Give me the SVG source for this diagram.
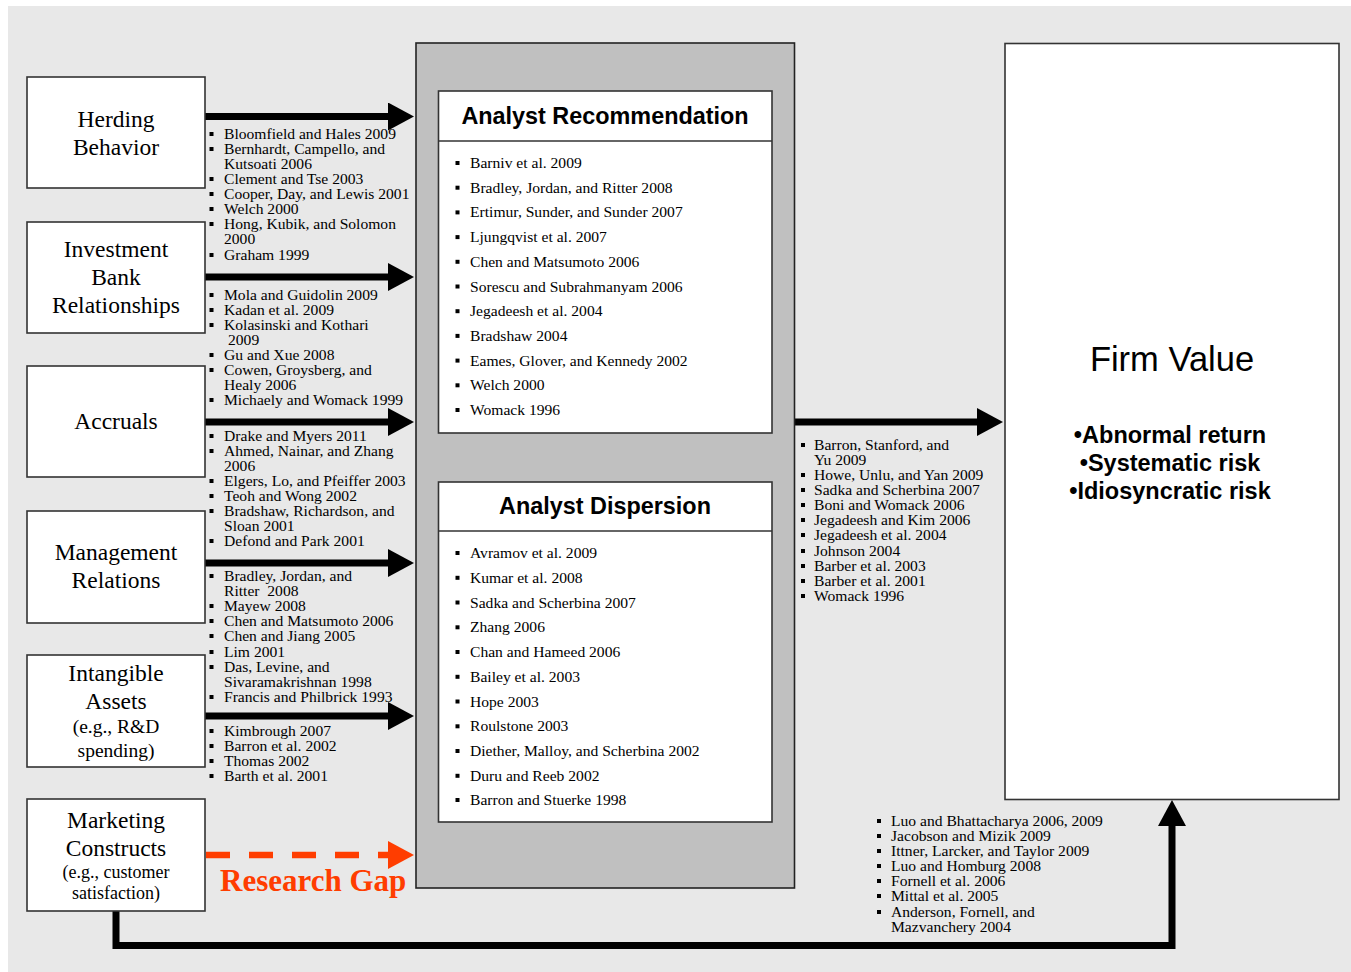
<svg xmlns="http://www.w3.org/2000/svg" width="1351" height="972" viewBox="0 0 1351 972">
<defs>
<style>
.bg{fill:#e8e8e8}
.box{fill:#fff;stroke:#333;stroke-width:1.6}
.panel{fill:#c0c0c0;stroke:#222;stroke-width:1.6}
.bt{font-family:"Liberation Serif","Times New Roman",serif;font-size:23.5px;fill:#000;text-anchor:middle}
.bs{font-family:"Liberation Serif","Times New Roman",serif;font-size:19.5px;fill:#000;text-anchor:middle}
.bs2{font-family:"Liberation Serif","Times New Roman",serif;font-size:18px;fill:#000;text-anchor:middle}
.li{font-family:"Liberation Serif","Times New Roman",serif;font-size:15.6px;fill:#000}
.hd{font-family:"Liberation Sans",Arial,sans-serif;font-size:23.4px;font-weight:bold;fill:#000;text-anchor:middle}
.fv{font-family:"Liberation Sans",Arial,sans-serif;font-size:34.5px;fill:#000;text-anchor:middle}
.fb{font-family:"Liberation Sans",Arial,sans-serif;font-size:23.5px;font-weight:bold;fill:#000;text-anchor:middle}
.gap{font-family:"Liberation Serif","Times New Roman",serif;font-size:31px;font-weight:bold;fill:#ff3d00}
.arr{stroke:#000;stroke-width:7;fill:none}
.red{stroke:#ff3d00;stroke-width:6.5;fill:none;stroke-dasharray:24 19}
.b{fill:#000}
</style>
<marker id="ah" markerUnits="userSpaceOnUse" markerWidth="26" markerHeight="28" refX="0" refY="14" orient="auto" viewBox="0 0 26 28">
<path d="M0,0 L26,14 L0,28 z" fill="#000"/>
</marker>
<marker id="ahr" markerUnits="userSpaceOnUse" markerWidth="26" markerHeight="28" refX="0" refY="14" orient="auto" viewBox="0 0 26 28">
<path d="M0,0 L26,14 L0,28 z" fill="#ff3d00"/>
</marker>
</defs>
<rect class="bg" x="8" y="6" width="1343" height="966"/>

<g id="connectors">
<line class="arr" x1="205" y1="116.5" x2="388" y2="116.5" marker-end="url(#ah)"/>
<line class="arr" x1="205" y1="277" x2="388" y2="277" marker-end="url(#ah)"/>
<line class="arr" x1="205" y1="422" x2="388" y2="422" marker-end="url(#ah)"/>
<line class="arr" x1="205" y1="563" x2="388" y2="563" marker-end="url(#ah)"/>
<line class="arr" x1="205" y1="716" x2="388" y2="716" marker-end="url(#ah)"/>
<line class="red" x1="206" y1="855" x2="388" y2="855" marker-end="url(#ahr)"/>
<line class="arr" x1="795" y1="422" x2="977" y2="422" marker-end="url(#ah)"/>
<polyline class="arr" points="116,911 116,945.5 1172,945.5 1172,826" marker-end="url(#ah)"/>
</g>

<g id="herding">
<rect class="box" x="27" y="77" width="178" height="111"/>
<text class="bt" x="116" y="127">Herding</text>
<text class="bt" x="116" y="155">Behavior</text>
</g>
<g id="investment">
<rect class="box" x="27" y="222" width="178" height="111"/>
<text class="bt" x="116" y="257">Investment</text>
<text class="bt" x="116" y="285">Bank</text>
<text class="bt" x="116" y="313">Relationships</text>
</g>
<g id="accruals">
<rect class="box" x="27" y="366" width="178" height="111"/>
<text class="bt" x="116" y="429">Accruals</text>
</g>
<g id="management">
<rect class="box" x="27" y="511" width="178" height="112"/>
<text class="bt" x="116" y="560">Management</text>
<text class="bt" x="116" y="588">Relations</text>
</g>
<g id="intangible">
<rect class="box" x="27" y="655" width="178" height="112"/>
<text class="bt" x="116" y="681">Intangible</text>
<text class="bt" x="116" y="709">Assets</text>
<text class="bs" x="116" y="733">(e.g., R&amp;D</text>
<text class="bs" x="116" y="757">spending)</text>
</g>
<g id="marketing">
<rect class="box" x="27" y="799" width="178" height="112"/>
<text class="bt" x="116" y="828">Marketing</text>
<text class="bt" x="116" y="856">Constructs</text>
<text class="bs2" x="116" y="878">(e.g., customer</text>
<text class="bs2" x="116" y="899">satisfaction)</text>
</g>

<g id="left-refs">
<text class="li" x="224" y="139">Bloomfield and Hales 2009</text>
<text class="li" x="224" y="154">Bernhardt, Campello, and</text>
<text class="li" x="224" y="169">Kutsoati 2006</text>
<text class="li" x="224" y="184">Clement and Tse 2003</text>
<text class="li" x="224" y="199">Cooper, Day, and Lewis 2001</text>
<text class="li" x="224" y="214">Welch 2000</text>
<text class="li" x="224" y="229">Hong, Kubik, and Solomon</text>
<text class="li" x="224" y="244">2000</text>
<text class="li" x="224" y="260">Graham 1999</text>
<rect class="b" x="209.5" y="132" width="4" height="4"/>
<rect class="b" x="209.5" y="147" width="4" height="4"/>
<rect class="b" x="209.5" y="177" width="4" height="4"/>
<rect class="b" x="209.5" y="192" width="4" height="4"/>
<rect class="b" x="209.5" y="207" width="4" height="4"/>
<rect class="b" x="209.5" y="222" width="4" height="4"/>
<rect class="b" x="209.5" y="253" width="4" height="4"/>

<text class="li" x="224" y="300">Mola and Guidolin 2009</text>
<text class="li" x="224" y="315">Kadan et al. 2009</text>
<text class="li" x="224" y="330">Kolasinski and Kothari</text>
<text class="li" x="228" y="345">2009</text>
<text class="li" x="224" y="360">Gu and Xue 2008</text>
<text class="li" x="224" y="375">Cowen, Groysberg, and</text>
<text class="li" x="224" y="390">Healy 2006</text>
<text class="li" x="224" y="405">Michaely and Womack 1999</text>
<rect class="b" x="209.5" y="293" width="4" height="4"/>
<rect class="b" x="209.5" y="308" width="4" height="4"/>
<rect class="b" x="209.5" y="323" width="4" height="4"/>
<rect class="b" x="209.5" y="353" width="4" height="4"/>
<rect class="b" x="209.5" y="368" width="4" height="4"/>
<rect class="b" x="209.5" y="398" width="4" height="4"/>

<text class="li" x="224" y="441">Drake and Myers 2011</text>
<text class="li" x="224" y="456">Ahmed, Nainar, and Zhang</text>
<text class="li" x="224" y="471">2006</text>
<text class="li" x="224" y="486">Elgers, Lo, and Pfeiffer 2003</text>
<text class="li" x="224" y="501">Teoh and Wong 2002</text>
<text class="li" x="224" y="516">Bradshaw, Richardson, and</text>
<text class="li" x="224" y="531">Sloan 2001</text>
<text class="li" x="224" y="546">Defond and Park 2001</text>
<rect class="b" x="209.5" y="434" width="4" height="4"/>
<rect class="b" x="209.5" y="449" width="4" height="4"/>
<rect class="b" x="209.5" y="479" width="4" height="4"/>
<rect class="b" x="209.5" y="494" width="4" height="4"/>
<rect class="b" x="209.5" y="509" width="4" height="4"/>
<rect class="b" x="209.5" y="539" width="4" height="4"/>

<text class="li" x="224" y="581">Bradley, Jordan, and</text>
<text class="li" x="224" y="596" xml:space="preserve">Ritter  2008</text>
<text class="li" x="224" y="611">Mayew 2008</text>
<text class="li" x="224" y="626">Chen and Matsumoto 2006</text>
<text class="li" x="224" y="641">Chen and Jiang 2005</text>
<text class="li" x="224" y="657">Lim 2001</text>
<text class="li" x="224" y="672">Das, Levine, and</text>
<text class="li" x="224" y="687">Sivaramakrishnan 1998</text>
<text class="li" x="224" y="702">Francis and Philbrick 1993</text>
<rect class="b" x="209.5" y="574" width="4" height="4"/>
<rect class="b" x="209.5" y="604" width="4" height="4"/>
<rect class="b" x="209.5" y="619" width="4" height="4"/>
<rect class="b" x="209.5" y="634" width="4" height="4"/>
<rect class="b" x="209.5" y="650" width="4" height="4"/>
<rect class="b" x="209.5" y="665" width="4" height="4"/>
<rect class="b" x="209.5" y="695" width="4" height="4"/>

<text class="li" x="224" y="736">Kimbrough 2007</text>
<text class="li" x="224" y="751">Barron et al. 2002</text>
<text class="li" x="224" y="766">Thomas 2002</text>
<text class="li" x="224" y="781">Barth et al. 2001</text>
<rect class="b" x="209.5" y="729" width="4" height="4"/>
<rect class="b" x="209.5" y="744" width="4" height="4"/>
<rect class="b" x="209.5" y="759" width="4" height="4"/>
<rect class="b" x="209.5" y="774" width="4" height="4"/>
</g>

<text class="gap" x="220" y="891">Research Gap</text>

<g id="analyst-panel">
<rect class="panel" x="416" y="43" width="378.5" height="845"/>
</g>
<g id="analyst-recommendation">
<rect class="box" x="438.5" y="91" width="333.5" height="342"/>
<line x1="438.5" y1="141" x2="772" y2="141" stroke="#333" stroke-width="1.6"/>
<text class="hd" x="605" y="124">Analyst Recommendation</text>
<text class="li" x="470" y="168">Barniv et al. 2009</text>
<text class="li" x="470" y="192.7">Bradley, Jordan, and Ritter 2008</text>
<text class="li" x="470" y="217.4">Ertimur, Sunder, and Sunder 2007</text>
<text class="li" x="470" y="242.1">Ljungqvist et al. 2007</text>
<text class="li" x="470" y="266.8">Chen and Matsumoto 2006</text>
<text class="li" x="470" y="291.5">Sorescu and Subrahmanyam 2006</text>
<text class="li" x="470" y="316.2">Jegadeesh et al. 2004</text>
<text class="li" x="470" y="340.9">Bradshaw 2004</text>
<text class="li" x="470" y="365.6">Eames, Glover, and Kennedy 2002</text>
<text class="li" x="470" y="390.3">Welch 2000</text>
<text class="li" x="470" y="415">Womack 1996</text>
<rect class="b" x="455.5" y="161" width="4" height="4"/>
<rect class="b" x="455.5" y="185.7" width="4" height="4"/>
<rect class="b" x="455.5" y="210.4" width="4" height="4"/>
<rect class="b" x="455.5" y="235.1" width="4" height="4"/>
<rect class="b" x="455.5" y="259.8" width="4" height="4"/>
<rect class="b" x="455.5" y="284.5" width="4" height="4"/>
<rect class="b" x="455.5" y="309.2" width="4" height="4"/>
<rect class="b" x="455.5" y="333.9" width="4" height="4"/>
<rect class="b" x="455.5" y="358.6" width="4" height="4"/>
<rect class="b" x="455.5" y="383.3" width="4" height="4"/>
<rect class="b" x="455.5" y="408" width="4" height="4"/>
</g>
<g id="analyst-dispersion">
<rect class="box" x="438.5" y="482" width="333.5" height="340"/>
<line x1="438.5" y1="531" x2="772" y2="531" stroke="#333" stroke-width="1.6"/>
<text class="hd" x="605" y="514">Analyst Dispersion</text>
<text class="li" x="470" y="558">Avramov et al. 2009</text>
<text class="li" x="470" y="582.8">Kumar et al. 2008</text>
<text class="li" x="470" y="607.5">Sadka and Scherbina 2007</text>
<text class="li" x="470" y="632.3">Zhang 2006</text>
<text class="li" x="470" y="657">Chan and Hameed 2006</text>
<text class="li" x="470" y="681.8">Bailey et al. 2003</text>
<text class="li" x="470" y="706.5">Hope 2003</text>
<text class="li" x="470" y="731.3">Roulstone 2003</text>
<text class="li" x="470" y="756">Diether, Malloy, and Scherbina 2002</text>
<text class="li" x="470" y="780.8">Duru and Reeb 2002</text>
<text class="li" x="470" y="805">Barron and Stuerke 1998</text>
<rect class="b" x="455.5" y="551" width="4" height="4"/>
<rect class="b" x="455.5" y="575.8" width="4" height="4"/>
<rect class="b" x="455.5" y="600.5" width="4" height="4"/>
<rect class="b" x="455.5" y="625.3" width="4" height="4"/>
<rect class="b" x="455.5" y="650" width="4" height="4"/>
<rect class="b" x="455.5" y="674.8" width="4" height="4"/>
<rect class="b" x="455.5" y="699.5" width="4" height="4"/>
<rect class="b" x="455.5" y="724.3" width="4" height="4"/>
<rect class="b" x="455.5" y="749" width="4" height="4"/>
<rect class="b" x="455.5" y="773.8" width="4" height="4"/>
<rect class="b" x="455.5" y="798" width="4" height="4"/>
</g>

<g id="right-refs">
<text class="li" x="814" y="450">Barron, Stanford, and</text>
<text class="li" x="814" y="465">Yu 2009</text>
<text class="li" x="814" y="480">Howe, Unlu, and Yan 2009</text>
<text class="li" x="814" y="495">Sadka and Scherbina 2007</text>
<text class="li" x="814" y="510">Boni and Womack 2006</text>
<text class="li" x="814" y="525">Jegadeesh and Kim 2006</text>
<text class="li" x="814" y="540">Jegadeesh et al. 2004</text>
<text class="li" x="814" y="556">Johnson 2004</text>
<text class="li" x="814" y="571">Barber et al. 2003</text>
<text class="li" x="814" y="586">Barber et al. 2001</text>
<text class="li" x="814" y="601">Womack 1996</text>
<rect class="b" x="801" y="443" width="4" height="4"/>
<rect class="b" x="801" y="473" width="4" height="4"/>
<rect class="b" x="801" y="488" width="4" height="4"/>
<rect class="b" x="801" y="503" width="4" height="4"/>
<rect class="b" x="801" y="518" width="4" height="4"/>
<rect class="b" x="801" y="533" width="4" height="4"/>
<rect class="b" x="801" y="549" width="4" height="4"/>
<rect class="b" x="801" y="564" width="4" height="4"/>
<rect class="b" x="801" y="579" width="4" height="4"/>
<rect class="b" x="801" y="594" width="4" height="4"/>
</g>

<g id="bottom-refs">
<text class="li" x="891" y="826">Luo and Bhattacharya 2006, 2009</text>
<text class="li" x="891" y="841">Jacobson and Mizik 2009</text>
<text class="li" x="891" y="856">Ittner, Larcker, and Taylor 2009</text>
<text class="li" x="891" y="871">Luo and Homburg 2008</text>
<text class="li" x="891" y="886">Fornell et al. 2006</text>
<text class="li" x="891" y="901">Mittal et al. 2005</text>
<text class="li" x="891" y="917">Anderson, Fornell, and</text>
<text class="li" x="891" y="932">Mazvanchery 2004</text>
<rect class="b" x="877" y="819" width="4" height="4"/>
<rect class="b" x="877" y="834" width="4" height="4"/>
<rect class="b" x="877" y="849" width="4" height="4"/>
<rect class="b" x="877" y="864" width="4" height="4"/>
<rect class="b" x="877" y="879" width="4" height="4"/>
<rect class="b" x="877" y="894" width="4" height="4"/>
<rect class="b" x="877" y="910" width="4" height="4"/>
</g>

<g id="firm-value">
<rect class="box" x="1005" y="43.5" width="334" height="756" stroke-width="2"/>
<text class="fv" x="1172" y="371">Firm Value</text>
<text class="fb" x="1170" y="443">•Abnormal return</text>
<text class="fb" x="1170" y="471">•Systematic risk</text>
<text class="fb" x="1170" y="499">•Idiosyncratic risk</text>
</g>
</svg>
